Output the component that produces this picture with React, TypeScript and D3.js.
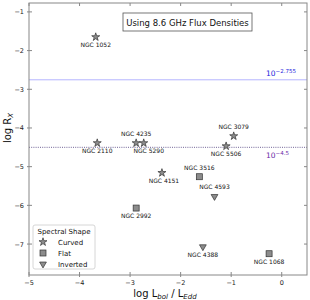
import React from "react";
import * as d3 from "d3";

const names = ["NGC 1052","NGC 2110","NGC 4235","NGC 5290","NGC 3079","NGC 5506","NGC 4151","NGC 3516","NGC 4593","NGC 2992","NGC 4388","NGC 1068"];
const logL = [-3.68,-3.65,-2.88,-2.73,-0.95,-1.1,-2.37,-1.63,-1.33,-2.88,-1.56,-0.25];
const logR = [-1.65,-4.39,-4.39,-4.39,-4.21,-4.47,-5.16,-5.26,-5.77,-6.07,-7.07,-7.25];
const shapes = ["Curved","Curved","Curved","Curved","Curved","Curved","Curved","Flat","Inverted","Flat","Inverted","Flat"];
const labelDy = [10,10,-7,10,-7,10,10,-7,-7,10,10,10];
const labelDx = [0,0,0,5,0,0,2,0,0,0,0,0];
const xTicks = [-5,-4,-3,-2,-1,0];
const yTicks = [-7,-6,-5,-4,-3,-2,-1];
const refLines = [-2.755,-4.5];
const legendItems = ["Curved","Flat","Inverted"];

const W = 310, H = 300;
const L = 29, R = 307, T = 3, B = 275;
const x = d3.scaleLinear().domain([-5, 0.5]).range([L, R]);
const y = d3.scaleLinear().domain([-7.8, -0.77]).range([B, T]);

const font = "DejaVu Sans, sans-serif";
const fill = "#8c8c8c";
const edge = "#333";

function Marker({ shape, cx, cy }: { shape: string; cx: number; cy: number }) {
  if (shape === "Curved") {
    const d = d3.symbol().type(d3.symbolStar).size(20)();
    return <path d={d as string} transform={`translate(${cx},${cy})`} fill={fill} stroke={edge} strokeWidth={0.7} />;
  }
  if (shape === "Flat") {
    return <rect x={cx - 3} y={cy - 3} width={6} height={6} fill={fill} stroke={edge} strokeWidth={0.7} />;
  }
  const d = d3.symbol().type(d3.symbolTriangle).size(20)();
  return <path d={d as string} transform={`translate(${cx},${cy}) rotate(180)`} fill={fill} stroke={edge} strokeWidth={0.7} />;
}

export default function App() {
  return (
    <svg width={W} height={H} style={{ position: "fixed", left: 0, top: 0, background: "#fff" }} fontFamily={font}>
      <line x1={L} x2={R} y1={y(refLines[0])} y2={y(refLines[0])} stroke="#b4b4ff" strokeWidth={1} />
      <line x1={L} x2={R} y1={y(refLines[1])} y2={y(refLines[1])} stroke="#4a3a7a" strokeWidth={0.8} strokeDasharray="1,1.2" />
      <text x={266} y={y(refLines[0]) - 4} fontSize={7.5} fill="#2222dd">10<tspan dy={-3} fontSize={5.5}>−2.755</tspan></text>
      <text x={266} y={y(refLines[1]) + 11} fontSize={7.5} fill="#6a2aa8">10<tspan dy={-3} fontSize={5.5}>−4.5</tspan></text>

      <rect x={L} y={T} width={R - L} height={B - T} fill="none" stroke="#888" strokeWidth={1} />
      {xTicks.map(t => (
        <g key={"x" + t}>
          <line x1={x(t)} x2={x(t)} y1={B - 3} y2={B + 2} stroke="#888" />
          <line x1={x(t)} x2={x(t)} y1={T} y2={T + 3} stroke="#888" />
          <text x={x(t)} y={B + 10} fontSize={6.5} textAnchor="middle" fill="#222">{t < 0 ? "−" + Math.abs(t) : t}</text>
        </g>
      ))}
      {yTicks.map(t => (
        <g key={"y" + t}>
          <line x1={L - 2} x2={L + 3} y1={y(t)} y2={y(t)} stroke="#888" />
          <line x1={R - 3} x2={R} y1={y(t)} y2={y(t)} stroke="#888" />
          <text x={L - 5} y={y(t) + 2.5} fontSize={6.5} textAnchor="end" fill="#222">{"−" + Math.abs(t)}</text>
        </g>
      ))}

      <text x={165} y={297} fontSize={10} textAnchor="middle" fill="#111">log L<tspan fontSize={7} fontStyle="italic" dy={2}>bol</tspan><tspan dy={-2}> / L</tspan><tspan fontSize={7} fontStyle="italic" dy={2}>Edd</tspan></text>
      <text transform={`translate(11,${y(-4)}) rotate(-90)`} fontSize={10} textAnchor="middle" fill="#111">log R<tspan fontSize={7} fontStyle="italic" dy={2}>X</tspan></text>

      <rect x={123} y={13} width={129} height={18} fill="#fff" stroke="#555" strokeWidth={0.8} />
      <text x={187.5} y={25.5} fontSize={8.5} textAnchor="middle" fill="#111">Using 8.6 GHz Flux Densities</text>

      {names.map((n, i) => (
        <g key={n}>
          <Marker shape={shapes[i]} cx={x(logL[i])} cy={y(logR[i])} />
          <text x={x(logL[i]) + labelDx[i]} y={y(logR[i]) + labelDy[i]} fontSize={6} textAnchor="middle" fill="#111">{n}</text>
        </g>
      ))}

      <rect x={33} y={225} width={62} height={44} rx={2} fill="#fff" stroke="#ccc" strokeWidth={0.8} />
      <text x={64} y={234} fontSize={7} textAnchor="middle" fill="#111">Spectral Shape</text>
      {legendItems.map((s, i) => (
        <g key={s}>
          <Marker shape={s} cx={43} cy={242 + i * 11} />
          <text x={58} y={244.5 + i * 11} fontSize={7} fill="#111">{s}</text>
        </g>
      ))}
    </svg>
  );
}
